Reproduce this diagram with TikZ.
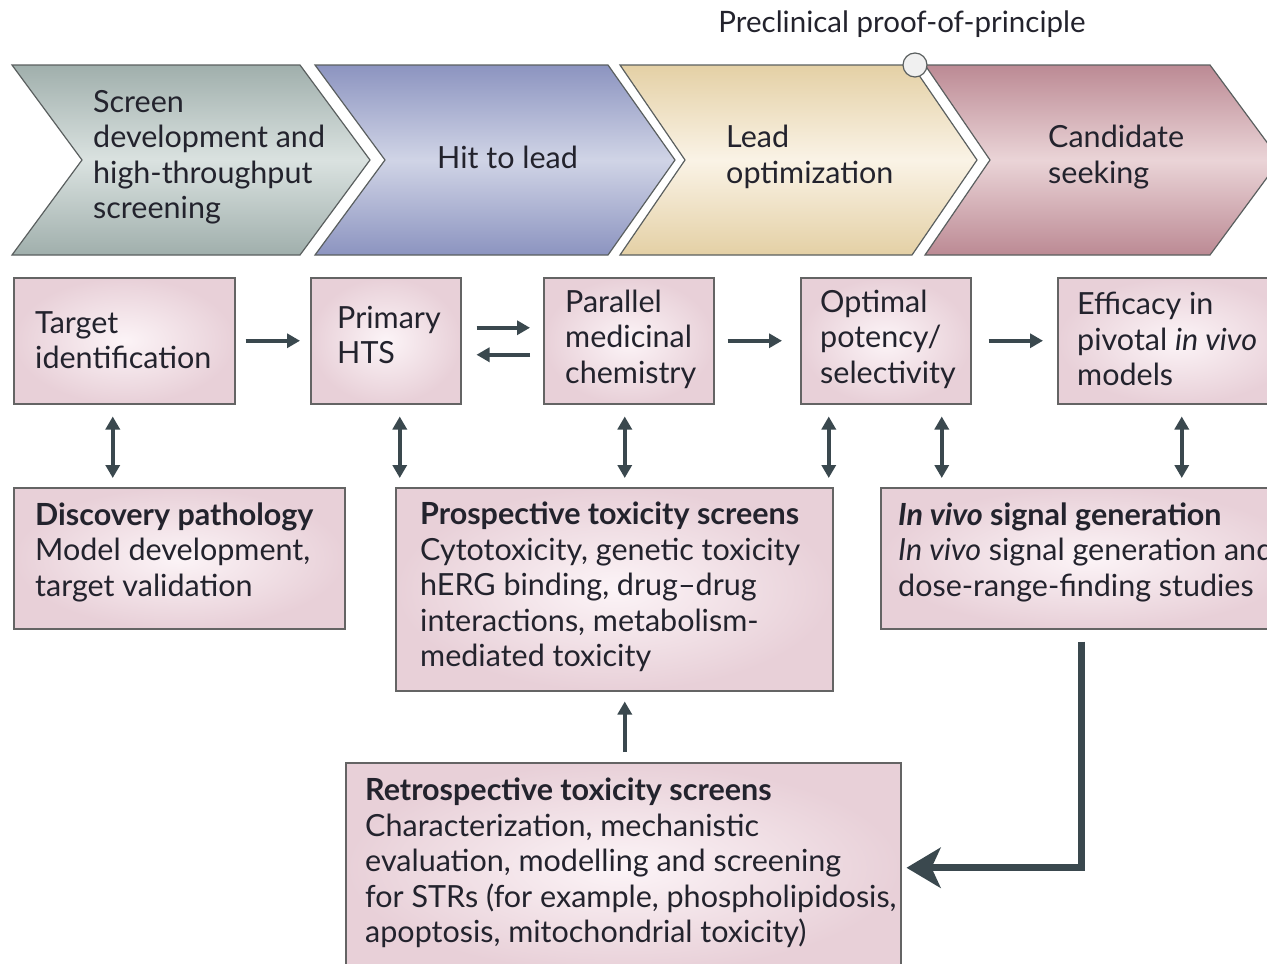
\documentclass[tikz,border=0pt]{standalone}
\usepackage{fontspec}
\setmainfont{Lato}
\usetikzlibrary{positioning, arrows.meta}

\definecolor{inkdark}{RGB}{35,35,45}
\definecolor{chevline}{RGB}{90,95,95}
\definecolor{boxline}{RGB}{100,100,100}
\definecolor{boxpink}{RGB}{232,208,216}
\definecolor{boxlight}{RGB}{252,244,247}
\definecolor{arrowgray}{RGB}{58,72,78}
\definecolor{greyA}{RGB}{160,175,172}
\definecolor{greyB}{RGB}{218,226,224}
\definecolor{blueA}{RGB}{140,148,192}
\definecolor{blueB}{RGB}{208,212,230}
\definecolor{creamA}{RGB}{228,208,165}
\definecolor{creamB}{RGB}{250,243,230}
\definecolor{mauveA}{RGB}{188,138,148}
\definecolor{mauveB}{RGB}{234,212,215}

\newcommand{\diagfont}{\fontsize{30.5}{35.5}\selectfont}

\begin{document}
\begin{tikzpicture}[x=1pt, y=-1pt,
    chev/.style={draw=chevline, line width=1.2pt},
    bx/.style={draw=boxline, line width=1.5pt, inner color=boxlight, outer color=boxpink},
    txt/.style={anchor=west, align=left, text=inkdark, font=\diagfont, inner sep=0pt},
    arr/.style={draw=arrowgray, line width=3.5pt, -{Triangle[length=13pt,width=14pt]}},
    dbl/.style={draw=arrowgray, line width=3.5pt, {Triangle[length=13pt,width=14pt]}-{Triangle[length=13pt,width=14pt]}, shorten <=12pt, shorten >=9pt},
    bigarr/.style={draw=arrowgray, line width=7pt, -{Stealth[length=34pt,width=40pt,inset=9pt]}, shorten <=12pt, shorten >=5pt}
]
\clip (0,0) rectangle (1267,964);

% stage chevrons
\path[chev, top color=greyA, bottom color=greyA, middle color=greyB]
  (12,65) -- (300,65) -- (370,160) -- (300,255) -- (12,255) -- (82,160) -- cycle;
\path[chev, top color=blueA, bottom color=blueA, middle color=blueB]
  (315,65) -- (608,65) -- (675,160) -- (608,255) -- (315,255) -- (385,160) -- cycle;
\path[chev, top color=creamA, bottom color=creamA, middle color=creamB]
  (620,65) -- (912,65) -- (977,160) -- (912,255) -- (620,255) -- (685,160) -- cycle;
\path[chev, top color=mauveA, bottom color=mauveA, middle color=mauveB]
  (925,65) -- (1210,65) -- (1280,160) -- (1210,255) -- (925,255) -- (990,160) -- cycle;

\node[txt] (screening) at (93,157) {Screen\\development and\\high-throughput\\screening};
\node[txt] (hitlead) at (437,157) {Hit to lead};
\node[txt] (leadopt) at (726,157) {Lead\\optimization};
\node[txt] (candidate) at (1048,157) {Candidate\\seeking};

\node[circle, draw=chevline, line width=1.2pt, fill=gray!12, minimum size=24pt, inner sep=0pt] (milestone) at (915,65) {};
\node[txt, anchor=south, font=\fontsize{29.5}{32}\selectfont] (poptext) at (902,38) {Preclinical proof-of-principle};

% activity boxes
\node[bx, minimum width=221pt, minimum height=126pt, anchor=north west] (target) at (13,277) {};
\node[bx, minimum width=150pt, minimum height=126pt, anchor=north west] (hts) at (310,277) {};
\node[bx, minimum width=170pt, minimum height=126pt, anchor=north west] (par) at (543,277) {};
\node[bx, minimum width=170pt, minimum height=126pt, anchor=north west] (opt) at (800,277) {};
\node[bx, minimum width=240pt, minimum height=126pt, anchor=north west] (eff) at (1057,277) {};

\node[txt] (targettxt) at (35,340) {Target\\identification};
\node[txt] (htstxt) at (337,335) {Primary\\HTS};
\node[txt] (partxt) at (565,339) {Parallel\\medicinal\\chemistry};
\node[txt] (opttxt) at (820,339) {Optimal\\potency/\\selectivity};
\node[txt] (efftxt) at (1077,339) {Efficacy in\\pivotal \textit{in vivo}\\models};

% toxicology boxes
\node[bx, minimum width=331pt, minimum height=141pt, anchor=north west] (path) at (13,487) {};
\node[bx, minimum width=437pt, minimum height=203pt, anchor=north west] (pro) at (395,487) {};
\node[bx, minimum width=420pt, minimum height=141pt, anchor=north west] (vivo) at (880,487) {};
\node[bx, minimum width=555pt, minimum height=210pt, anchor=north west] (retro) at (345,762) {};

\node[txt] (pathtxt) at (35,552) {\textbf{Discovery pathology}\\Model development,\\target validation};
\node[txt] (protxt) at (420,587) {\textbf{Prospective toxicity screens}\\Cytotoxicity, genetic toxicity\\hERG binding, drug--drug\\interactions, metabolism-\\mediated toxicity};
\node[txt] (vivotxt) at (898,552) {\textbf{\textit{In vivo} signal generation}\\\textit{In vivo} signal generation and\\dose-range-finding studies};
\node[txt] (retrotxt) at (365,863) {\textbf{Retrospective toxicity screens}\\Characterization, mechanistic\\evaluation, modelling and screening\\for STRs (for example, phospholipidosis,\\apoptosis, mitochondrial toxicity)};

% flow arrows
\draw[arr, shorten <=10pt, shorten >=10pt] (target) -- (hts);
\draw[arr, shorten <=15pt, shorten >=13pt] ([yshift=13pt]hts.east) -- ([yshift=13pt]par.west);
\draw[arr, shorten <=13pt, shorten >=15pt] ([yshift=-14pt]par.west) -- ([yshift=-14pt]hts.east);
\draw[arr, shorten <=13pt, shorten >=18pt] (par) -- (opt);
\draw[arr, shorten <=17pt, shorten >=14pt] (opt) -- (eff);

\draw[dbl] ([xshift=-11.5pt]target.south) -- ([xshift=-11.5pt]target.south |- path.north);
\draw[dbl] ([xshift=14pt]hts.south) -- ([xshift=14pt]hts.south |- pro.north);
\draw[dbl] ([xshift=-4pt]par.south) -- ([xshift=-4pt]par.south |- pro.north);
\draw[dbl] ([xshift=-57pt]opt.south) -- ([xshift=-57pt]opt.south |- pro.north);
\draw[dbl] ([xshift=56pt]opt.south) -- ([xshift=56pt]opt.south |- vivo.north);
\draw[dbl] ([xshift=4pt]eff.south) -- ([xshift=4pt]eff.south |- vivo.north);

\draw[arr, shorten <=10pt, shorten >=10pt] ([xshift=1.5pt]retro.north) -- ([xshift=1.5pt]retro.north |- pro.south);
\draw[bigarr] ([xshift=-9pt]vivo.south) |- (retro.east);
\end{tikzpicture}
\end{document}
